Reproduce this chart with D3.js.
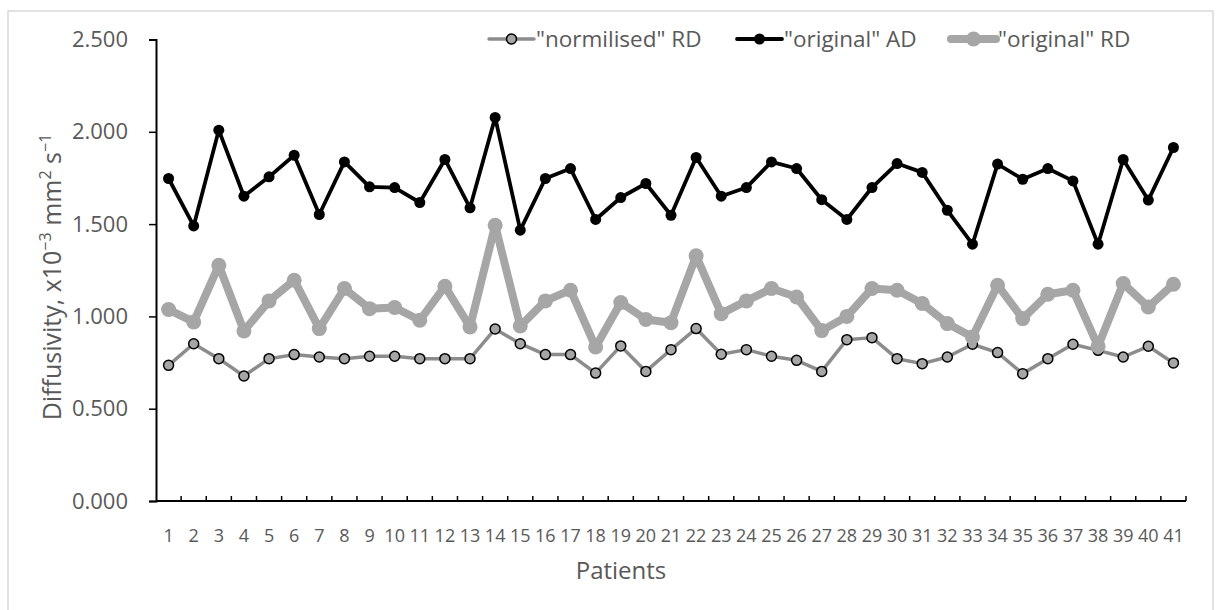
<!DOCTYPE html>
<html>
<head>
<meta charset="utf-8">
<script src="https://cdn.jsdelivr.net/npm/d3@7"></script>
<style>
  html, body { margin: 0; padding: 0; background: #fff; }
  svg { display: block; font-family: "Open Sans", "Noto Sans", sans-serif; }
  .axis text { fill: #595959; }
</style>
</head>
<body>
<div id="chart"></div>
<script>
// patients on the x axis
const patients = ['1','2','3','4','5','6','7','8','9','10','11','12','13','14','15','16','17','18','19','20',
  '21','22','23','24','25','26','27','28','29','30','31','32','33','34','35','36','37','38','39','40','41'];

// diffusivity values, x10^-3 mm2 s-1
const normRD = [0.735,0.852,0.771,0.677,0.771,0.793,0.780,0.771,0.784,0.784,0.771,0.771,0.771,0.932,
  0.852,0.793,0.793,0.693,0.840,0.702,0.820,0.934,0.795,0.820,0.784,0.762,0.702,
  0.874,0.885,0.771,0.744,0.780,0.849,0.804,0.690,0.771,0.849,0.816,0.780,0.838,0.748];
const origAD = [1.747,1.490,2.009,1.651,1.756,1.873,1.552,1.837,1.702,1.698,1.617,1.850,1.588,2.078,
  1.467,1.747,1.801,1.525,1.644,1.720,1.548,1.861,1.651,1.698,1.837,1.801,1.632,
  1.525,1.698,1.828,1.780,1.575,1.391,1.825,1.743,1.801,1.734,1.391,1.850,1.630,1.915];
const origRD = [1.037,0.970,1.277,0.921,1.084,1.196,0.934,1.151,1.042,1.048,0.979,1.163,0.943,1.494,
  0.948,1.084,1.142,0.834,1.075,0.983,0.966,1.328,1.015,1.084,1.151,1.105,0.923,
  1.000,1.151,1.142,1.070,0.961,0.888,1.169,0.988,1.120,1.142,0.838,1.178,1.051,1.174];

const yTicks = [0, 0.5, 1, 1.5, 2, 2.5];

const width = 1221, height = 610;
const margin = { top: 39.5, left: 156, right: 35, bottom: 109 };

const svg = d3.select('#chart').append('svg')
  .attr('width', width)
  .attr('height', height);

// chart frame
svg.append('rect')
  .attr('x', 8).attr('y', 11)
  .attr('width', 1205).attr('height', 620)
  .attr('fill', 'none')
  .attr('stroke', '#d9d9d9')
  .attr('stroke-width', 1.5);

const x = d3.scaleBand()
  .domain(patients)
  .range([margin.left, width - margin.right]);

const y = d3.scaleLinear()
  .domain([0, 2.5])
  .range([height - margin.bottom, margin.top]);

const cx = d => x(d) + x.bandwidth() / 2;

// y axis
const yAxis = svg.append('g')
  .attr('class', 'axis axis-y')
  .attr('transform', `translate(${margin.left},0)`)
  .call(d3.axisLeft(y).tickValues(yTicks).tickFormat(d3.format('.3f')).tickSize(7).tickPadding(21));
yAxis.attr('font-size', null).attr('font-family', null);
yAxis.select('.domain').attr('stroke', '#000').attr('stroke-width', 2);
yAxis.selectAll('.tick line').attr('stroke', '#000').attr('stroke-width', 1.5);
yAxis.selectAll('text').style('font-size', '22px');

// x axis: Excel style, ticks between categories, pointing up
const xAxis = svg.append('g')
  .attr('class', 'axis axis-x')
  .attr('transform', `translate(0,${y(0)})`);
xAxis.append('line')
  .attr('x1', margin.left).attr('x2', width - margin.right)
  .attr('stroke', '#000').attr('stroke-width', 2);
xAxis.selectAll('.tk')
  .data(patients)
  .join('line')
  .attr('class', 'tk')
  .attr('x1', d => x(d) + x.bandwidth()).attr('x2', d => x(d) + x.bandwidth())
  .attr('y1', 0).attr('y2', -5)
  .attr('stroke', '#000').attr('stroke-width', 1.5);
xAxis.selectAll('text')
  .data(patients)
  .join('text')
  .attr('x', cx)
  .attr('y', 41)
  .attr('text-anchor', 'middle')
  .style('font-size', '18px')
  .text(d => d);

// axis titles
svg.append('text')
  .attr('x', 621).attr('y', 579)
  .attr('text-anchor', 'middle')
  .attr('fill', '#595959')
  .style('font-size', '24px')
  .text('Patients');

const yTitle = svg.append('text')
  .attr('transform', 'translate(61,277) rotate(-90)')
  .attr('text-anchor', 'middle')
  .attr('fill', '#595959')
  .style('font-size', '25px');
yTitle.append('tspan').text('Diffusivity,  x10');
yTitle.append('tspan').attr('dy', -10).style('font-size', '16px').text('−3');
yTitle.append('tspan').attr('dy', 10).text(' mm');
yTitle.append('tspan').attr('dy', -10).style('font-size', '16px').text('2');
yTitle.append('tspan').attr('dy', 10).text(' s');
yTitle.append('tspan').attr('dy', -10).style('font-size', '16px').text('−1');

const line = d3.line()
  .x((d, i) => cx(patients[i]))
  .y(d => y(d));

const series = [
  { name: '"normilised" RD', values: normRD, stroke: '#8c8c8c', width: 3.5, r: 5, fill: '#a6a6a6', mstroke: '#000', mw: 1.5 },
  { name: '"original" AD', values: origAD, stroke: '#000', width: 3.8, r: 5.5, fill: '#000', mstroke: '#000', mw: 0 },
  { name: '"original" RD', values: origRD, stroke: '#a6a6a6', width: 8, r: 7.5, fill: '#a6a6a6', mstroke: '#a6a6a6', mw: 0 }
];

series.forEach(s => {
  const g = svg.append('g');
  g.append('path')
    .datum(s.values)
    .attr('d', line)
    .attr('fill', 'none')
    .attr('stroke', s.stroke)
    .attr('stroke-width', s.width)
    .attr('stroke-linejoin', 'round');
  g.selectAll('circle')
    .data(s.values)
    .join('circle')
    .attr('cx', (d, i) => cx(patients[i]))
    .attr('cy', d => y(d))
    .attr('r', s.r)
    .attr('fill', s.fill)
    .attr('stroke', s.mstroke)
    .attr('stroke-width', s.mw);
});

// legend
const legendX = [489, 737, 951];
const legend = svg.append('g').attr('transform', 'translate(0,39)');
series.forEach((s, i) => {
  const lg = legend.append('g').attr('transform', `translate(${legendX[i]},0)`);
  lg.append('line')
    .attr('x1', 0).attr('x2', 45)
    .attr('stroke', s.stroke).attr('stroke-width', s.width)
    .attr('stroke-linecap', 'round');
  lg.append('circle')
    .attr('cx', 22.5).attr('r', s.r)
    .attr('fill', s.fill).attr('stroke', s.mstroke).attr('stroke-width', s.mw);
  lg.append('text')
    .attr('x', 47).attr('dy', '0.35em')
    .attr('fill', '#595959')
    .style('font-size', '22.5px')
    .text(s.name);
});
</script>
</body>
</html>
